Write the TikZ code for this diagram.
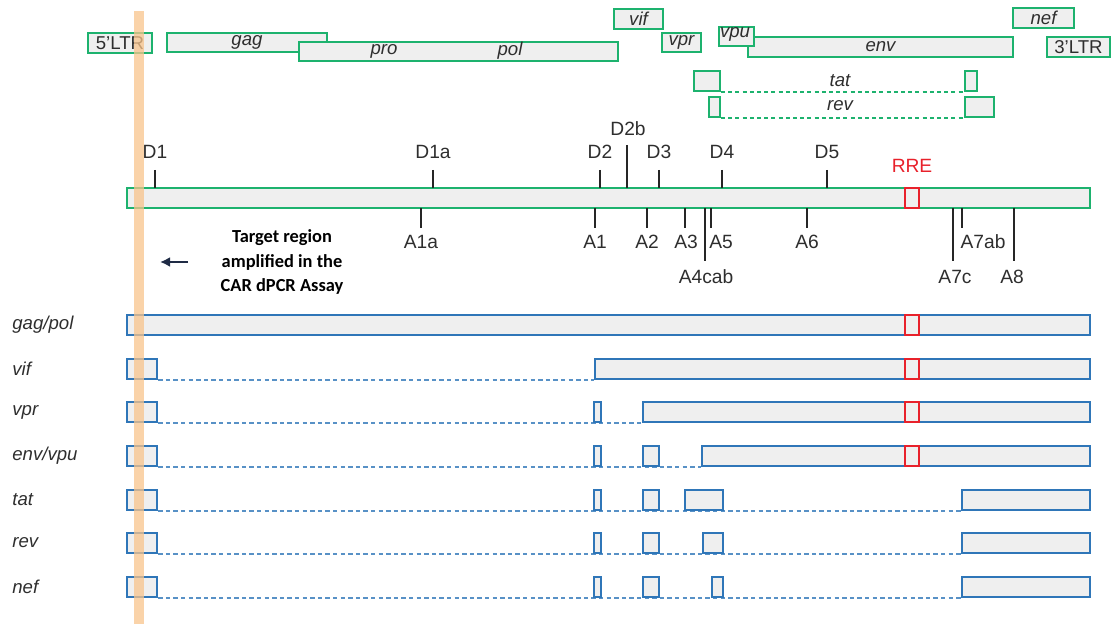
\documentclass[tikz,border=0pt]{standalone}
\usepackage{fontspec}
\setmainfont{Liberation Sans}
\newfontfamily\notefont{Carlito}
\usetikzlibrary{arrows.meta,backgrounds}

\definecolor{genegreen}{HTML}{1DB26E}
\definecolor{exonblue}{HTML}{2F76B8}
\definecolor{boxgray}{HTML}{EFEFEF}
\definecolor{rrered}{HTML}{E8212B}
\definecolor{bandorange}{HTML}{F8C48C}
\definecolor{labgray}{HTML}{2E2E2E}
\definecolor{arrnavy}{HTML}{1F2B45}

\newcommand{\sitefont}{\fontsize{9.6}{11.5}\selectfont}
\newcommand{\genefont}{\fontsize{9.3}{11}\selectfont}
% box from x1 to x2, y1 to y2 (pixel units)
\newcommand{\blk}[7]{\node[#1,minimum width={(#4-#3)*0.5pt},minimum height={(#6-#5)*0.5pt}] (#2) at ({(#3+#4)/2},{(#5+#6)/2}) {#7};}
% exon of a transcript row
\newcommand{\exon}[4]{\node[exon,minimum width={(#3-#2)*0.5pt}] (#1) at ({(#2+#3)/2},#4) {};}

\begin{document}
\begin{tikzpicture}[
  x=0.5pt,y=-0.5pt,
  gbox/.style={draw=genegreen,fill=boxgray,line width=1pt,inner sep=0pt,font=\genefont,text=labgray},
  exon/.style={draw=exonblue,fill=boxgray,line width=1.2pt,inner sep=0pt,minimum height=10pt},
  rre/.style={draw=rrered,line width=1pt,inner sep=0pt,minimum width=7pt,minimum height=10pt},
  tick/.style={line width=0.9pt,black!85},
  site/.style={font=\sitefont,text=labgray,inner sep=0pt},
  rowlab/.style={font=\genefont\itshape,text=labgray,anchor=west,inner sep=0pt},
  gdash/.style={genegreen,line width=0.8pt,dash pattern=on 2pt off 1.6pt},
  bdash/.style={exonblue!80,line width=0.8pt,dash pattern=on 2.2pt off 1.6pt},
  arr/.style={-{Latex[length=5pt,width=5pt]},line width=1.2pt,arrnavy}
]
\useasboundingbox (0,0) rectangle (1111,624);

% gene map
\blk{gbox}{ltrL}{88}{152}{33}{53}{5'LTR}
\blk{gbox}{gag}{167}{327}{33}{52}{\itshape gag}
\blk{gbox}{pol}{299}{618}{42}{61}{}
\node[site,font=\genefont\itshape] (pro) at (384,51) {pro};
\node[site,font=\genefont\itshape] (pollab) at (510,51) {pol};
\blk{gbox}{vif}{614}{663}{9}{29}{\itshape vif}
\blk{gbox}{vpr}{662}{701}{33}{52}{\itshape vpr}
\blk{gbox}{env}{748}{1013}{37}{57}{\itshape env}
\blk{gbox}{vpu}{719}{754}{27}{46}{}
\node[site,font=\genefont\itshape] (vpulab) at (735,34) {vpu};
\blk{gbox}{nef}{1013}{1074}{8}{28}{\itshape nef}
\blk{gbox}{ltrR}{1047}{1110}{37}{57}{3'LTR}
\blk{gbox}{tatL}{694}{720}{71}{91}{}
\blk{gbox}{tatR}{965}{977}{71}{91}{}
\blk{gbox}{revL}{709}{720}{97}{117}{}
\blk{gbox}{revR}{965}{994}{97}{117}{}
\begin{scope}[on background layer]
  \draw[gdash] (tatL.south east) -- (tatR.south west);
  \draw[gdash] (revL.south east) -- (revR.south west);
\end{scope}
\node[site,font=\genefont\itshape] (tatlab) at (840,81) {tat};
\node[site,font=\genefont\itshape] (revlab) at (840,106) {rev};

% genome with splice sites
\blk{gbox}{genome}{127}{1090}{188}{208}{}
\node[rre] (rre) at (912,198) {};
\node[site,text=rrered] (rrelab) at (912,166) {RRE};
\foreach \name/\xx in {D1/155,D1a/433,D2/600,D3/659,D4/722,D5/827}{
  \draw[tick] (\xx,170) -- (\xx,188);
  \node[site] (\name) at (\xx,152) {\name};
}
\draw[tick] (627,145) -- (627,188);
\node[site] (D2b) at (628,129) {D2b};
\foreach \name/\xx/\lx in {A1a/421/421,A1/595/595,A2/647/647,A3/685/686,A5/711/721,A6/807/807,A7ab/962/983}{
  \draw[tick] (\xx,208) -- (\xx,228);
  \node[site] (\name) at (\lx,242) {\name};
}
\foreach \name/\xx/\lx in {A4cab/705/706,A7c/953/955,A8/1014/1012}{
  \draw[tick] (\xx,208) -- (\xx,261);
  \node[site] (\name) at (\lx,277) {\name};
}

% note on the assay target
\node[font=\notefont\bfseries\fontsize{9.2}{12.4}\selectfont,align=center,inner sep=0pt] (note) at (282,262)
  {Target region\\amplified in the\\CAR dPCR Assay};
\coordinate (arrtail) at (188,262);
\coordinate (arrhead) at (160,262);
\draw[arr] (arrtail) -- (arrhead);

% transcript rows
\node[rowlab] (lgagpol) at (12,325) {gag/pol};
\node[rowlab] (lvif) at (12,369) {vif};
\node[rowlab] (lvpr) at (12,412) {vpr};
\node[rowlab] (lenv) at (12,456) {env/vpu};
\node[rowlab] (ltat) at (12,500) {tat};
\node[rowlab] (lrev) at (12,543) {rev};
\node[rowlab] (lnef) at (12,587) {nef};

\exon{gp1}{127}{1090}{325}
\exon{vi1}{127}{157}{369} \exon{vi2}{595}{1090}{369}
\exon{vp1}{127}{157}{412} \exon{vp2}{594}{601}{412} \exon{vp3}{643}{1090}{412}
\exon{en1}{127}{157}{456} \exon{en2}{594}{601}{456} \exon{en3}{643}{659}{456} \exon{en4}{702}{1090}{456}
\exon{ta1}{127}{157}{500} \exon{ta2}{594}{601}{500} \exon{ta3}{643}{659}{500} \exon{ta4}{685}{723}{500} \exon{ta5}{962}{1090}{500}
\exon{re1}{127}{157}{543} \exon{re2}{594}{601}{543} \exon{re3}{643}{659}{543} \exon{re4}{703}{723}{543} \exon{re5}{962}{1090}{543}
\exon{ne1}{127}{157}{587} \exon{ne2}{594}{601}{587} \exon{ne3}{643}{659}{587} \exon{ne4}{712}{723}{587} \exon{ne5}{962}{1090}{587}
\foreach \yy in {325,369,412,456}{
  \node[rre] (rre\yy) at (912,\yy) {};
}
\begin{scope}[on background layer]
  \draw[bdash] (vi1.south east) -- (vi2.south west);
  \draw[bdash] (vp1.south east) -- (vp3.south west);
  \draw[bdash] (en1.south east) -- (en4.south west);
  \draw[bdash] (ta1.south east) -- (ta5.south west);
  \draw[bdash] (re1.south east) -- (re5.south west);
  \draw[bdash] (ne1.south east) -- (ne5.south west);
\end{scope}

% amplified region
\fill[bandorange,opacity=0.75] (134,11) rectangle (144,624);
\end{tikzpicture}
\end{document}
